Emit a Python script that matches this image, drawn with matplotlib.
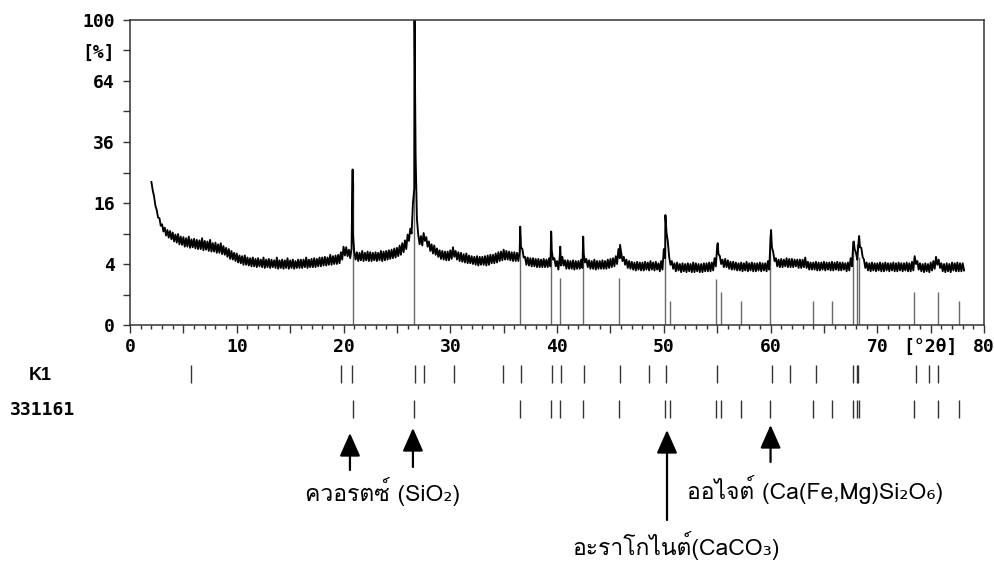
import numpy as np
import matplotlib
matplotlib.use("Agg")
import matplotlib.pyplot as plt
from matplotlib import font_manager
from matplotlib.ft2font import FT2Font
from matplotlib.transforms import blended_transform_factory

# =========================================================
# Datos (leidos del difractograma)
# =========================================================
scan_start = 2.0     # [°2θ]
scan_step = 0.25

# borde superior de la banda de ruido (en scan_start + k*scan_step)
band_top = [
    22.0, 17.8, 14.2, 12.3, 10.9, 10.2, 9.7, 9.5,    # 2-3
    9.2, 8.8, 8.9, 8.4, 8.3, 8.1, 8.4, 7.9,          # 4-5
    8.0, 7.8, 7.7, 8.1, 7.6, 7.5, 7.8, 7.2,          # 6-7
    7.3, 7.0, 7.2, 6.7, 6.4, 6.2, 5.9, 5.6,          # 8-9
    5.5, 5.2, 5.1, 5.2, 4.9, 4.8, 4.9, 4.7,          # 10-11
    4.8, 4.6, 4.9, 4.6, 4.7, 4.6, 4.5, 4.9,          # 12-13
    4.5, 4.6, 4.5, 4.8, 4.5, 4.6, 4.4, 4.6,          # 14-15
    4.6, 4.6, 4.9, 4.6, 4.7, 4.8, 4.7, 4.9,          # 16-17
    4.9, 5.0, 4.9, 5.3, 5.1, 5.2, 5.3, 5.7,          # 18-19
    6.6, 6.5, 6.1, 6.3, 5.8, 5.7, 5.6, 5.9,          # 20-21
    5.6, 5.8, 5.7, 5.6, 5.7, 5.6, 5.9, 5.8,          # 22-23
    5.9, 6.0, 6.1, 6.3, 6.4, 6.8, 7.2, 7.7,          # 24-25
    8.8, 10.0, 16.0, 31.0, 8.7, 8.5, 9.1, 8.3,       # 26-27
    7.5, 7.0, 6.8, 6.3, 6.0, 5.9, 5.8, 5.8,          # 28-29
    6.0, 6.5, 5.9, 5.7, 5.6, 5.4, 5.5, 5.2,          # 30-31
    5.1, 5.0, 5.1, 5.0, 5.0, 5.1, 5.2, 5.3,          # 32-33
    5.3, 5.5, 5.7, 5.8, 6.1, 5.9, 5.8, 5.7,          # 34-35
    5.7, 5.6, 5.9, 6.2, 5.0, 4.9, 4.8, 4.8,          # 36-37
    4.7, 4.7, 4.6, 4.7, 4.6, 4.8, 6.0, 4.8,          # 38-39
    4.4, 5.0, 5.0, 4.5, 4.5, 4.4, 4.5, 4.4,          # 40-41
    4.4, 4.6, 5.4, 4.7, 4.5, 4.4, 4.6, 4.4,          # 42-43
    4.4, 4.5, 4.4, 4.6, 4.7, 4.8, 5.1, 6.2,          # 44-45
    5.7, 5.0, 4.6, 4.4, 4.3, 4.2, 4.3, 4.2,          # 46-47
    4.2, 4.3, 4.2, 4.4, 4.2, 4.3, 4.1, 4.4,          # 48-49
    6.2, 9.3, 5.0, 4.4, 4.1, 4.2, 4.0, 4.1,          # 50-51
    4.0, 4.1, 4.0, 4.2, 4.1, 4.0, 4.0, 4.1,          # 52-53
    4.1, 4.2, 4.2, 4.8, 6.7, 5.1, 4.6, 4.7,          # 54-55
    4.5, 4.3, 4.3, 4.2, 4.1, 4.2, 4.1, 4.3,          # 56-57
    4.1, 4.2, 4.1, 4.1, 4.2, 4.1, 4.1, 4.4,          # 58-59
    8.2, 5.7, 4.8, 4.6, 4.7, 4.6, 4.8, 4.7,          # 60-61
    4.7, 4.6, 4.6, 4.6, 4.6, 4.9, 4.3, 4.2,          # 62-63
    4.2, 4.3, 4.2, 4.2, 4.3, 4.2, 4.2, 4.3,          # 64-65
    4.2, 4.3, 4.2, 4.2, 4.1, 4.2, 4.8, 7.4,          # 66-67
    5.6, 7.6, 6.4, 4.6, 4.2, 4.1, 4.2, 4.1,          # 68-69
    4.1, 4.2, 4.1, 4.2, 4.1, 4.1, 4.2, 4.1,          # 70-71
    4.2, 4.1, 4.1, 4.2, 4.1, 4.3, 5.1, 4.4,          # 72-73
    4.1, 4.0, 4.1, 4.0, 4.2, 4.4, 5.0, 4.6,          # 74-75
    4.1, 4.0, 4.1, 4.0, 4.2, 4.1, 4.2, 4.1,          # 76-77
    4.1,                                             # 78
]

# borde inferior de la banda (en scan_start + k*scan_step + scan_step/2)
band_bot = [
    19.5, 15.3, 12.4, 10.6, 9.4, 8.6, 8.2, 7.9,      # 2-3
    7.5, 7.3, 7.0, 6.9, 6.6, 6.6, 6.4, 6.5,          # 4-5
    6.3, 6.2, 6.2, 6.0, 6.1, 5.9, 5.8, 5.8,          # 6-7
    5.6, 5.6, 5.4, 5.3, 5.0, 4.7, 4.6, 4.4,          # 8-9
    4.2, 4.1, 3.9, 3.9, 3.8, 3.7, 3.7, 3.6,          # 10-11
    3.7, 3.6, 3.5, 3.6, 3.5, 3.6, 3.5, 3.4,          # 12-13
    3.5, 3.4, 3.5, 3.4, 3.5, 3.4, 3.5, 3.5,          # 14-15
    3.5, 3.6, 3.5, 3.6, 3.6, 3.6, 3.7, 3.7,          # 16-17
    3.8, 3.8, 3.9, 3.9, 4.0, 4.0, 4.1, 4.6,          # 18-19
    5.2, 5.1, 4.8, 9.0, 4.6, 4.4, 4.5, 4.4,          # 20-21
    4.5, 4.4, 4.4, 4.5, 4.4, 4.5, 4.4, 4.5,          # 22-23
    4.6, 4.7, 4.8, 4.9, 5.1, 5.3, 5.7, 6.2,          # 24-25
    7.6, 9.0, 20.0, 12.0, 7.0, 6.8, 7.6, 6.6,        # 26-27
    5.9, 5.5, 5.3, 5.0, 4.7, 4.6, 4.5, 4.5,          # 28-29
    4.7, 5.0, 4.6, 4.4, 4.3, 4.2, 4.1, 4.1,          # 30-31
    4.0, 3.9, 3.8, 3.9, 3.9, 3.8, 3.9, 4.1,          # 32-33
    4.1, 4.2, 4.4, 4.5, 4.6, 4.6, 4.5, 4.4,          # 34-35
    4.4, 4.4, 6.5, 4.9, 3.9, 3.8, 3.7, 3.7,          # 36-37
    3.6, 3.6, 3.6, 3.6, 3.6, 3.7, 4.6, 3.7,          # 38-39
    3.3, 3.8, 3.8, 3.4, 3.4, 3.4, 3.3, 3.4,          # 40-41
    3.4, 3.5, 4.2, 3.6, 3.4, 3.4, 3.3, 3.4,          # 42-43
    3.4, 3.4, 3.4, 3.5, 3.6, 3.7, 4.0, 4.8,          # 44-45
    4.4, 3.9, 3.5, 3.4, 3.3, 3.2, 3.3, 3.2,          # 46-47
    3.2, 3.3, 3.2, 3.3, 3.2, 3.3, 3.1, 3.3,          # 48-49
    4.8, 7.5, 3.9, 3.4, 3.1, 3.2, 3.0, 3.1,          # 50-51
    3.0, 3.1, 3.0, 3.0, 3.1, 3.0, 3.0, 3.1,          # 52-53
    3.1, 3.1, 3.2, 3.7, 5.4, 4.0, 3.6, 3.6,          # 54-55
    3.4, 3.3, 3.3, 3.2, 3.2, 3.1, 3.2, 3.1,          # 56-57
    3.2, 3.1, 3.1, 3.2, 3.1, 3.2, 3.1, 3.3,          # 58-59
    6.5, 4.4, 3.7, 3.6, 3.6, 3.7, 3.6, 3.6,          # 60-61
    3.6, 3.7, 3.5, 3.5, 3.6, 3.5, 3.3, 3.3,          # 62-63
    3.3, 3.2, 3.2, 3.3, 3.2, 3.3, 3.2, 3.2,          # 64-65
    3.3, 3.2, 3.2, 3.3, 3.1, 3.2, 3.7, 6.2,          # 66-67
    4.6, 6.5, 5.0, 3.5, 3.2, 3.1, 3.2, 3.1,          # 68-69
    3.2, 3.1, 3.1, 3.2, 3.1, 3.2, 3.1, 3.1,          # 70-71
    3.2, 3.1, 3.2, 3.1, 3.1, 3.2, 4.0, 3.3,          # 72-73
    3.1, 3.0, 3.1, 3.0, 3.2, 3.4, 3.9, 3.5,          # 74-75
    3.1, 3.0, 3.1, 3.0, 3.2, 3.1, 3.1, 3.1,          # 76-77
    3.2,                                             # 78
]

# picos finos (posicion, intensidad %)
peak_pos = [20.85, 26.65, 36.55, 39.45, 40.3, 42.45, 45.9,
            50.15, 55.05, 60.05, 67.8, 68.3]
peak_val = [26.0, 100.0, 10.4, 9.4, 6.6, 8.4, 6.9,
            13.0, 7.2, 9.7, 7.5, 8.5]

# ficha 331161 (cuarzo): posiciones e intensidades relativas
card_pos = [20.85, 26.64, 36.54, 39.46, 40.29, 42.45, 45.79, 50.14, 50.62,
            54.87, 55.32, 57.24, 59.96, 63.99, 65.79, 67.74, 68.14, 68.31,
            73.46, 75.65, 77.65]
card_int = [22, 100, 9, 9, 2.4, 6, 2.4, 13, 0.6,
            2.3, 1.2, 0.6, 9, 0.6, 0.6, 6, 7, 5,
            1.2, 1.2, 0.6]

# lista de picos K1
k1_pos = [5.68, 19.73, 20.83, 26.7, 27.57, 30.38, 34.91, 36.63, 39.5, 40.37,
          42.5, 45.9, 48.62, 50.18, 54.96, 60.14, 61.83, 64.23, 67.76, 68.1,
          68.22, 73.6, 74.85, 75.66]

y_ticks = [0, 1, 4, 9, 16, 25, 36, 49, 64, 81, 100]
y_labels = ["0", "", "4", "", "16", "", "36", "", "64", "[%]", "100"]
x_ticks = list(range(0, 81, 5))
x_labels = ["0", "", "10", "", "20", "", "30", "", "40", "", "50", "", "60", "",
            "70", "[°2θ]", "80"]

row_names = ["K1", "331161"]
mineral_labels = ["ควอรตซ์ (SiO₂)", "อะราโกไนต์(CaCO₃)", "ออไจต์ (Ca(Fe,Mg)Si₂O₆)"]


# =========================================================
# Fuente con glifos thai
# =========================================================
def fuente_thai():
    encontradas = []
    for f in font_manager.fontManager.ttflist:
        try:
            if 0x0E01 in FT2Font(f.fname).get_charmap():
                encontradas.append(f.name)
        except Exception:
            pass
    for nombre in encontradas:
        if "sans" in nombre.lower() or "loma" in nombre.lower() or "garuda" in nombre.lower():
            return nombre
    return encontradas[0] if encontradas else "DejaVu Sans"


thai = fuente_thai()
fam_thai = [thai, "DejaVu Sans"]
mono = {"family": "DejaVu Sans Mono", "weight": "bold", "size": 13}

# =========================================================
# Figura
# =========================================================
fig = plt.figure(figsize=(9.95, 5.63), dpi=100)
ax = fig.add_axes([0.1307, 0.4227, 0.8583, 0.5418])

ax.set_yscale("function", functions=(lambda v: np.sqrt(np.clip(v, 0, None)),
                                     lambda v: np.square(v)))
ax.set_xlim(0, 80)
ax.set_ylim(0, 100)

# barras de la ficha (gris, detras)
ax.vlines(card_pos, 0, card_int, color="#6a6a6a", lw=1.0, zorder=1)

# traza medida: banda de ruido (arriba/abajo alternados) + picos
x_top = scan_start + scan_step * np.arange(len(band_top))
x_bot = x_top + scan_step / 2
xx = np.concatenate([x_top, x_bot, peak_pos])
yy = np.concatenate([band_top, band_bot, peak_val])
orden = np.argsort(xx, kind="stable")
ax.plot(xx[orden], yy[orden], color="black", lw=1.35, zorder=2)

# ejes
ax.set_yticks(y_ticks)
ax.set_yticklabels(y_labels, fontdict=mono)
ax.set_xticks(x_ticks)
ax.set_xticklabels(x_labels, fontdict=mono)
ax.set_xticks(np.arange(0, 81, 1), minor=True)
ax.tick_params(axis="y", direction="out", length=5, width=1.0, pad=6, color="#333333")
ax.tick_params(axis="x", which="major", direction="out", length=6, width=1.0, pad=3, color="#333333")
ax.tick_params(axis="x", which="minor", direction="out", length=2.8, width=1.0, color="#333333")
for sp in ax.spines.values():
    sp.set_linewidth(1.1)
    sp.set_color("#333333")

# filas de referencia bajo el eje
tr = blended_transform_factory(ax.transData, fig.transFigure)
ax.vlines(k1_pos, 1 - 383 / 563, 1 - 365 / 563, transform=tr, clip_on=False,
          color="#333333", lw=1.0)
ax.vlines(card_pos, 1 - 418 / 563, 1 - 400 / 563, transform=tr, clip_on=False,
          color="#333333", lw=1.0)
fig.text(40 / 995, 1 - 375 / 563, row_names[0], ha="center", va="center",
         family="Liberation Sans", weight="bold", size=13)
fig.text(10 / 995, 1 - 410 / 563, row_names[1], ha="left", va="center", **mono)

# flechas
flechas = [(20.6, 470, 433), (26.5, 467, 428), (50.3, 520, 430), (60.0, 462, 425)]
for xd, cola, punta in flechas:
    ax.annotate("", xy=(xd, 1 - punta / 563), xytext=(xd, 1 - cola / 563),
                xycoords=tr, textcoords=tr, annotation_clip=False,
                arrowprops=dict(arrowstyle="-|>,head_width=0.42,head_length=0.95",
                                mutation_scale=15, color="black", lw=1.6,
                                shrinkA=0, shrinkB=0))

# nombres de minerales
posiciones = [(23.7, 492), (51.15, 545), (64.2, 490)]
for (xd, py), txt in zip(posiciones, mineral_labels):
    ax.text(xd, 1 - py / 563, txt, transform=tr, ha="center", va="center",
            family=fam_thai, size=16.5, clip_on=False)

fig.savefig("out.png", dpi=100)
plt.close(fig)
